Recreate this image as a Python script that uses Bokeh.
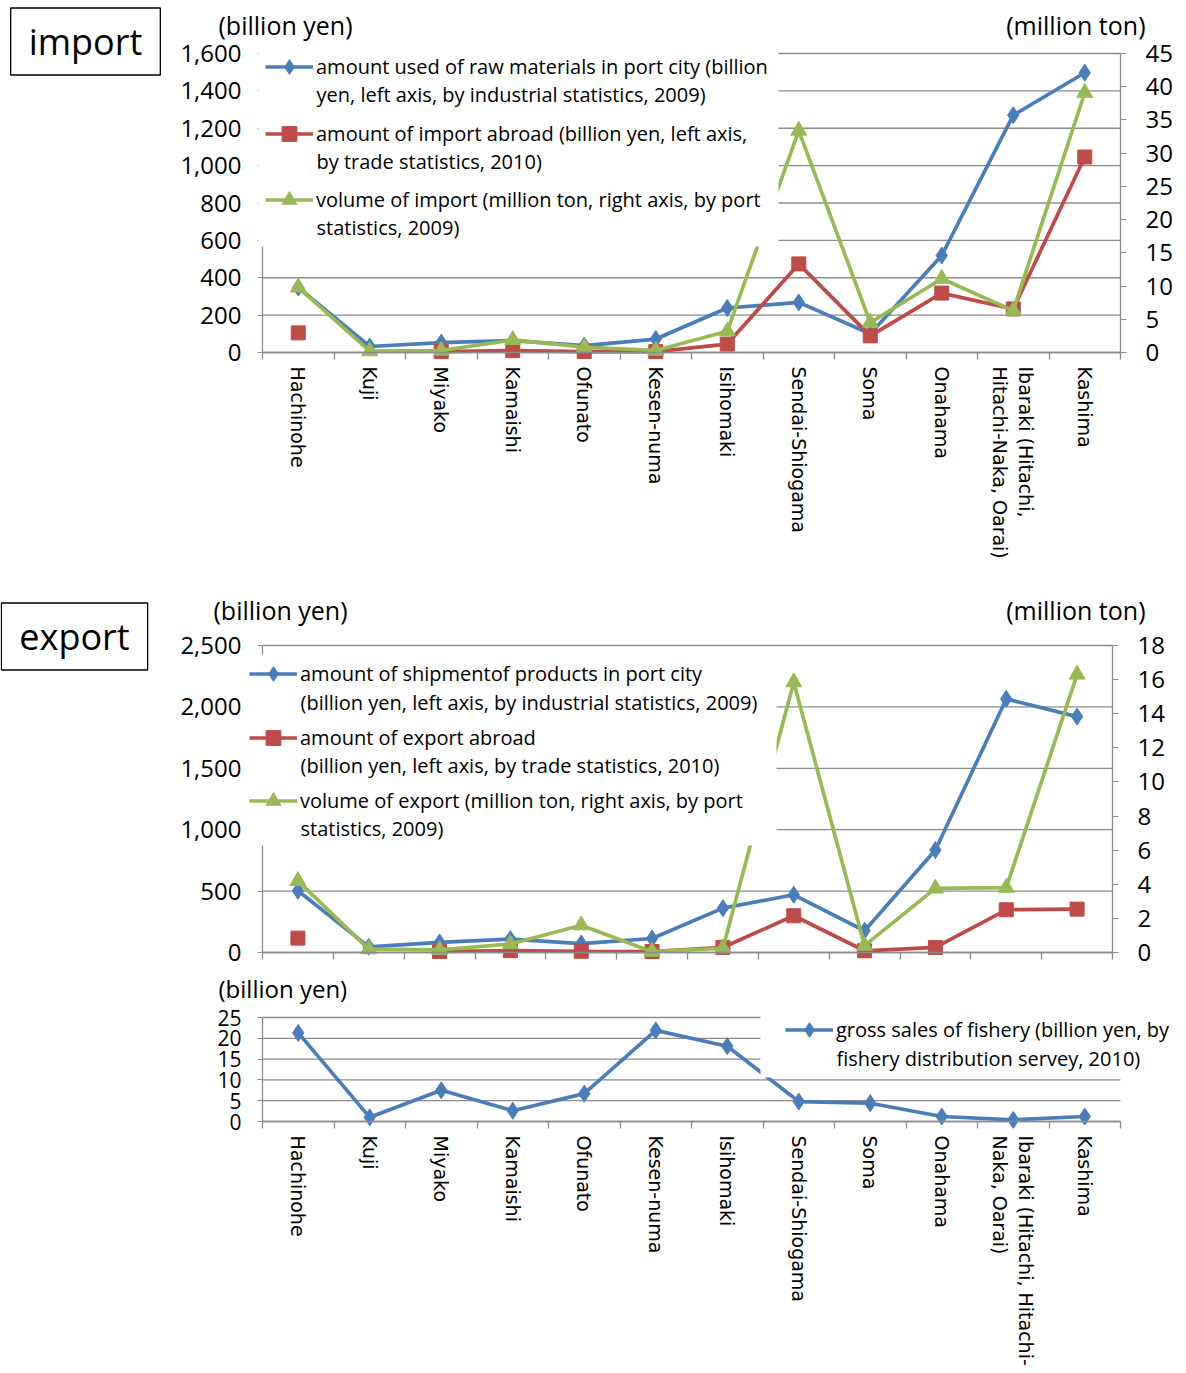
import math
from bokeh.plotting import figure
from bokeh.models import (Range1d, LinearAxis, FixedTicker, NumeralTickFormatter,
                          Legend, LegendItem, Label, BoxAnnotation)
from bokeh.layouts import column
from bokeh.embed import file_html
from bokeh.resources import INLINE

NaN = float("nan")

# ---------------- data ----------------
ports = ["Hachinohe", "Kuji", "Miyako", "Kamaishi", "Ofunato", "Kesen-numa",
         "Isihomaki", "Sendai-Shiogama", "Soma", "Onahama",
         "Ibaraki (Hitachi,\nHitachi-Naka, Oarai)", "Kashima"]
ports_fishery = ["Hachinohe", "Kuji", "Miyako", "Kamaishi", "Ofunato", "Kesen-numa",
                 "Isihomaki", "Sendai-Shiogama", "Soma", "Onahama",
                 "Ibaraki (Hitachi, Hitachi-\nNaka, Oarai)", "Kashima"]

# import (billion yen, left axis)
import_raw_materials = [348, 32, 53, 64, 37, 72, 238, 268, 100, 519, 1270, 1497]
import_abroad = [105, NaN, 5, 10, 5, 5, 45, 474, 89, 318, 233, 1046]
# import volume (million ton, right axis)
import_volume = [9.8, 0.2, 0.3, 1.9, 0.8, 0.3, 3.2, 33.4, 4.5, 11.1, 6.3, 39.1]

# export (billion yen, left axis)
export_shipment = [503, 46, 82, 109, 73, 114, 361, 470, 177, 834, 2065, 1921]
export_abroad = [117, NaN, 8, 15, 10, 8, 41, 299, 14, 41, 348, 353]
# export volume (million ton, right axis)
export_volume = [4.2, 0.2, 0.15, 0.5, 1.6, 0.05, 0.25, 15.85, 0.4, 3.76, 3.8, 16.3]

# fishery gross sales (billion yen)
fishery_sales = [21.3, 1.0, 7.5, 2.6, 6.7, 21.9, 18.1, 4.8, 4.4, 1.2, 0.4, 1.2]

# axis scales
import_left_ticks = [0, 200, 400, 600, 800, 1000, 1200, 1400, 1600]
import_right_ticks = [0, 5, 10, 15, 20, 25, 30, 35, 40, 45]
export_left_ticks = [0, 500, 1000, 1500, 2000, 2500]
export_right_ticks = [0, 2, 4, 6, 8, 10, 12, 14, 16, 18]
fishery_ticks = [0, 5, 10, 15, 20, 25]

# legend texts (first line, second line)
import_labels = [("amount used of raw materials in port city (billion",
                  "yen, left axis, by industrial statistics, 2009)"),
                 ("amount of import abroad (billion yen, left axis,",
                  "by trade statistics, 2010)"),
                 ("volume of import (million ton, right axis, by port",
                  "statistics, 2009)")]
export_labels = [("amount of shipmentof products in port city",
                  "(billion yen, left axis, by industrial statistics, 2009)"),
                 ("amount of export abroad",
                  " (billion yen, left axis, by trade statistics, 2010)"),
                 ("volume of export (million ton, right axis, by port",
                  "statistics, 2009)")]
fishery_labels = [("gross sales of fishery (billion yen, by",
                   "fishery distribution servey, 2010)")]

unit_left = "(billion yen)"
unit_right = "(million ton)"

# ---------------- style ----------------
BLUE = "#4A7EBB"
RED = "#BE4B48"
GREEN = "#98B954"
GRID = "#8C8C8C"
NUM_FONT = "Open Sans"
CAT_FONT = "DejaVu Sans"
W = 1186
LEG_SIZE = "20px"
GLYPH_W = 48
GLYPH_H = 37


class Chart:
    """A figure whose frame is the whole canvas; the plot area is placed with
    fixed-location axes so that legends and captions are never clipped."""

    def __init__(self, H, left, right, top, bottom, ticks, names, right_ticks=None,
                 show_cat=True, tick_size="24px"):
        n = len(names)
        self.H = H
        self.sx = (right - left) / n
        self.x0 = -left / self.sx
        x1 = n + (W - right) / self.sx
        y_end = ticks[-1]
        self.sy = (bottom - top) / y_end
        y0 = -(H - bottom) / self.sy
        self.y1 = y_end + top / self.sy
        p = figure(width=W, height=H, x_range=Range1d(self.x0, x1),
                   y_range=Range1d(y0, self.y1), output_backend="svg",
                   toolbar_location=None, min_border_left=0, min_border_right=0,
                   min_border_top=0, min_border_bottom=0)
        p.outline_line_color = None
        p.xgrid.visible = False
        p.ygrid.visible = False
        self.p = p

        # horizontal grid lines at the left-axis ticks
        p.segment(x0=[0] * len(ticks), x1=[n] * len(ticks), y0=ticks, y1=ticks,
                  line_color=GRID, line_width=1.3)

        ya = p.yaxis[0]
        ya.fixed_location = 0
        ya.bounds = (0, y_end)
        ya.ticker = FixedTicker(ticks=ticks, minor_ticks=[])
        ya.formatter = NumeralTickFormatter(format="0,0")
        ya.axis_line_color = GRID
        ya.axis_line_width = 1.3
        ya.major_tick_line_color = GRID
        ya.major_tick_out = 5
        ya.major_tick_in = 0
        ya.minor_tick_out = 0
        ya.major_label_standoff = 16
        ya.major_label_text_font = NUM_FONT
        ya.major_label_text_font_size = tick_size
        ya.major_label_text_color = "black"

        centers = [i + 0.5 for i in range(n)]
        bounds = list(range(n + 1))
        xa = p.xaxis[0]
        xa.fixed_location = 0
        xa.bounds = (0, n)
        if show_cat:
            xa.ticker = FixedTicker(ticks=centers, minor_ticks=bounds)
            xa.major_label_overrides = {c: s for c, s in zip(centers, names)}
        else:
            xa.ticker = FixedTicker(ticks=[], minor_ticks=bounds)
        xa.major_label_orientation = -math.pi / 2
        xa.major_tick_out = 0
        xa.major_tick_in = 0
        xa.minor_tick_out = 7
        xa.minor_tick_in = 0
        xa.minor_tick_line_color = GRID
        xa.minor_tick_line_width = 1.3
        xa.axis_line_color = GRID
        xa.axis_line_width = 1.3
        xa.major_label_text_font = CAT_FONT
        xa.major_label_text_font_size = "19px"
        xa.major_label_text_color = "black"
        xa.major_label_standoff = 7

        if right_ticks is not None:
            r_end = right_ticks[-1]
            sr = (bottom - top) / r_end
            p.extra_y_ranges = {"right": Range1d(-(H - bottom) / sr, r_end + top / sr)}
            ra = LinearAxis(y_range_name="right", fixed_location=n,
                            ticker=FixedTicker(ticks=right_ticks, minor_ticks=[]))
            ra.bounds = (0, r_end)
            ra.axis_line_color = GRID
            ra.axis_line_width = 1.3
            ra.major_tick_line_color = GRID
            ra.major_tick_out = 6
            ra.major_tick_in = 0
            ra.minor_tick_out = 0
            ra.major_label_standoff = 19
            ra.major_label_text_font = NUM_FONT
            ra.major_label_text_font_size = "24px"
            ra.major_label_text_color = "black"
            p.add_layout(ra, "right")

    # pixel (from top-left of this canvas) -> data coordinates
    def X(self, px):
        return self.x0 + px / self.sx

    def Y(self, py):
        return self.y1 - py / self.sy

    def series(self, ys, color, marker, size, y_range_name="default"):
        xs = [i + 0.5 for i in range(len(ys))]
        r1 = self.p.line(xs, ys, line_color=color, line_width=3.7,
                         y_range_name=y_range_name)
        r2 = self.p.scatter(xs, ys, marker=marker, size=size, fill_color=color,
                            line_color=color, y_range_name=y_range_name)
        return [r1, r2]

    def text(self, px, py, s, size="25px", align="left", box=False):
        kw = {}
        if box:
            kw = dict(border_line_color="black", border_line_width=1.3,
                      background_fill_color="white", padding=(18, 18, 9, 9))
        self.p.add_layout(Label(x=self.X(px), y=self.Y(py), text=s,
                                text_font=NUM_FONT, text_font_size=size,
                                text_align=align, text_baseline="middle",
                                text_color="black", **kw))

    def legend(self, entries, groups, box, glyph_left, line_ys):
        """White legend panel; each entry = glyph + first line, second line below."""
        l, t, r, b = box
        self.p.add_layout(BoxAnnotation(left=self.X(l), right=self.X(r),
                                        top=self.Y(t), bottom=self.Y(b),
                                        fill_color="white", fill_alpha=1.0,
                                        line_alpha=0))
        text_left = glyph_left + GLYPH_W + 3
        for (first, second), grp, (ya, yb) in zip(entries, groups, line_ys):
            lg = Legend(items=[LegendItem(label=first, renderers=grp)],
                        location=(glyph_left, self.H - (ya + GLYPH_H / 2)),
                        glyph_width=GLYPH_W, glyph_height=GLYPH_H, label_standoff=3,
                        spacing=0, padding=0, margin=0, background_fill_alpha=0,
                        border_line_color=None, label_text_font=NUM_FONT,
                        label_text_font_size=LEG_SIZE, label_text_color="black")
            self.p.add_layout(lg)
            self.p.add_layout(Label(x=self.X(text_left), y=self.Y(yb), text=second,
                                    text_font=NUM_FONT, text_font_size=LEG_SIZE,
                                    text_align="left", text_baseline="middle",
                                    text_color="black"))


# ---------------- import chart ----------------
c1 = Chart(590, 262, 1120, 53, 352, import_left_ticks, ports,
           right_ticks=import_right_ticks)
g1 = c1.series(import_raw_materials, BLUE, "diamond", 17)
g2 = c1.series(import_abroad, RED, "square", 14)
g3 = c1.series(import_volume, GREEN, "triangle", 16, "right")
c1.legend(import_labels, [g1, g2, g3], (258, 44, 778, 246), 265,
          [(66, 94), (133, 161), (199, 227)])
c1.text(218, 24, unit_left)
c1.text(1145, 24, unit_right, align="right")
c1.text(85, 41, "import", size="36px", align="center", box=True)

# ---------------- export chart ----------------
c2 = Chart(380, 262, 1112, 55, 362, export_left_ticks, ports,
           right_ticks=export_right_ticks, show_cat=False)
h1 = c2.series(export_shipment, BLUE, "diamond", 17)
h2 = c2.series(export_abroad, RED, "square", 14)
h3 = c2.series(export_volume, GREEN, "triangle", 16, "right")
c2.legend(export_labels, [h1, h2, h3], (248, 64, 776, 255), 249,
          [(83, 112), (147, 175), (210, 238)])
c2.text(213, 19, unit_left)
c2.text(1145, 19, unit_right, align="right")
c2.text(74, 46, "export", size="36px", align="center", box=True)

# ---------------- fishery chart ----------------
c3 = Chart(403, 262, 1120, 47, 151, fishery_ticks, ports_fishery, tick_size="21px")
f1 = c3.series(fishery_sales, BLUE, "diamond", 17)
c3.legend(fishery_labels, [f1], (760, 40, 1186, 107), 785, [(59, 88)])
c3.text(218, 18, unit_left, size="24px")

layout = column(c1.p, c2.p, c3.p, spacing=0)
open("out.html", "w").write(file_html(layout, INLINE))
